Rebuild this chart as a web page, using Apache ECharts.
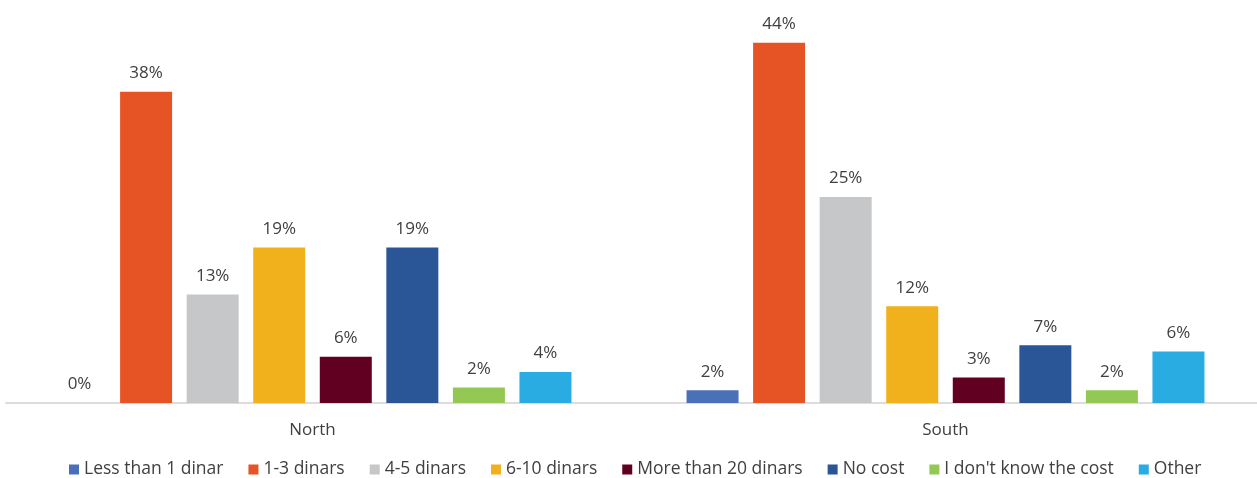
<!DOCTYPE html>
<html>
<head>
<meta charset="utf-8">
<script src="https://cdn.jsdelivr.net/npm/echarts@6/dist/echarts.min.js"></script>
<style>
html,body{margin:0;padding:0;background:#fff;overflow:hidden;width:1257px;height:478px;}
#chart{width:1266px;height:478px;margin-left:-4px;}
</style>
</head>
<body>
<div id="chart"></div>
<script>
const categories = ['North', 'South'];
const seriesNames = ['Less than 1 dinar', '1-3 dinars', '4-5 dinars', '6-10 dinars', 'More than 20 dinars', 'No cost', "I don't know the cost", 'Other'];
const lessThan1 = [0, 1.55];
const dinars1to3 = [38, 44];
const dinars4to5 = [13.25, 25.15];
const dinars6to10 = [19, 11.8];
const moreThan20 = [5.65, 3.1];
const noCost = [19, 7.05];
const dontKnow = [1.9, 1.55];
const other = [3.8, 6.3];
const values = [lessThan1, dinars1to3, dinars4to5, dinars6to10, moreThan20, noCost, dontKnow, other];
const colors = ['#4A70B9', '#E65425', '#C6C7C9', '#F0B11D', '#610021', '#2A5597', '#92C853', '#28ACE2'];

const FONT = 'Open Sans';
const TEXT = '#404040';

const chart = echarts.init(document.getElementById('chart'), null, {renderer: 'canvas'});
const option = {
  animation: false,
  backgroundColor: '#ffffff',
  color: colors,
  textStyle: {fontFamily: FONT},
  grid: [
    {left: 0, right: 0, top: 34.45, bottom: 75},
    {left: 10, right: 5, top: 34.45, bottom: 75}
  ],
  legend: {
    data: seriesNames,
    left: 68,
    top: 455.5,
    icon: 'rect',
    itemWidth: 10,
    itemHeight: 10,
    itemGap: 25,
    textStyle: {fontFamily: FONT, fontSize: 17.5, color: TEXT}
  },
  xAxis: [
    {
      type: 'category',
      gridIndex: 0,
      data: categories,
      axisLine: {show: false},
      axisTick: {show: false},
      axisLabel: {fontFamily: FONT, fontSize: 17, color: TEXT, margin: 19}
    },
    {
      type: 'category',
      gridIndex: 1,
      data: categories,
      axisLine: {show: true, lineStyle: {color: '#DCDCDC', width: 2}},
      axisTick: {show: false},
      axisLabel: {show: false}
    }
  ],
  yAxis: [
    {type: 'value', gridIndex: 0, min: 0, max: 45, show: false},
    {type: 'value', gridIndex: 1, min: 0, max: 45, show: false}
  ],
  series: seriesNames.map((name, i) => ({
    name: name,
    type: 'bar',
    xAxisIndex: 0,
    yAxisIndex: 0,
    data: values[i],
    barWidth: 52,
    barGap: '28%',
    itemStyle: {color: colors[i]},
    label: {
      show: true,
      position: 'top',
      distance: 10,
      fontFamily: FONT,
      fontSize: 17,
      color: TEXT,
      formatter: p => Math.round(p.value) + '%'
    }
  }))
};
chart.setOption(option);
</script>
</body>
</html>
